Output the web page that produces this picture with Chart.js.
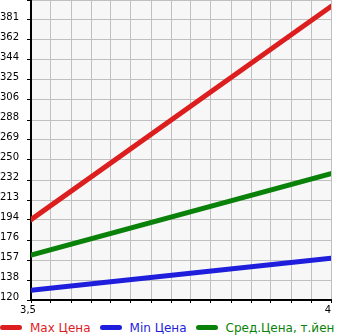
<!DOCTYPE html>
<html>
<head>
<meta charset="utf-8">
<script src="https://cdn.jsdelivr.net/npm/chart.js@4"></script>
<style>
  body { margin: 0; background: #fff; }
  #wrap { position: relative; width: 345px; height: 318px; }
  #legend {
    width: 345px; height: 17px; overflow: hidden; white-space: nowrap;
    font: 12px "DejaVu Sans", sans-serif; line-height: 17px; padding-top: 2px;
  }
  #legend .item { display: inline-block; margin-right: 9px; }
  #legend .mark {
    display: inline-block; width: 22px; height: 5px; border-radius: 3px;
    vertical-align: middle; margin-right: 8px; position: relative; top: -1px;
  }
</style>
</head>
<body>
<div id="wrap"><canvas id="myChart"></canvas></div>
<div id="legend"></div>
<script>
// x values and the three price series
const xValues = [3.5, 4];
const maxPrice = [195, 394];
const minPrice = [129, 159];
const avgPrice = [162, 238];

const seriesNames = ['Max Цена', 'Min Цена', 'Сред.Цена, т.йен'];
const seriesColors = ['#dc1e1e', '#1e1edc', '#0a820a'];

const xTickValues = [3.5, 4];
const xTickLabels = ['3,5', '4'];
const yMin = 120;
const yMax = 400;
const gridSteps = 15;

const plotBackground = {
    id: 'plotBackground',
    beforeDraw(chart) {
        const { ctx, chartArea } = chart;
        ctx.save();
        ctx.fillStyle = '#f7f7f7';
        ctx.fillRect(chartArea.left, chartArea.top, chartArea.width, chartArea.height);
        ctx.restore();
    }
};

const datasets = [maxPrice, minPrice, avgPrice].map((values, i) => ({
    label: seriesNames[i],
    data: values.map((y, j) => ({ x: xValues[j], y })),
    borderColor: seriesColors[i],
    borderWidth: 5,
    borderCapStyle: 'round',
    pointRadius: 0,
    tension: 0,
}));

const ctx = document.getElementById('myChart').getContext('2d');
new Chart(ctx, {
    type: 'line',
    data: { datasets },
    options: {
        responsive: true,
        maintainAspectRatio: false,
        animation: false,
        layout: { padding: { top: 0, left: 0, bottom: 0, right: 14 } },
        plugins: { legend: { display: false }, tooltip: { enabled: false } },
        scales: {
            x: {
                type: 'linear',
                min: xValues[0],
                max: xValues[1],
                afterBuildTicks: (scale) => {
                    const step = (scale.max - scale.min) / gridSteps;
                    scale.ticks = Array.from({ length: gridSteps + 1 }, (_, i) => ({ value: scale.min + i * step }));
                },
                afterFit: (scale) => { scale.height = 18; },
                grid: { color: '#c0c0c0', tickColor: '#000', tickLength: 3 },
                border: { color: '#000', width: 2 },
                ticks: {
                    autoSkip: false,
                    maxRotation: 0,
                    padding: 1,
                    labelOffset: -3,
                    color: '#000',
                    font: { family: 'DejaVu Sans', size: 10 },
                    callback: (value) => {
                        const k = xTickValues.findIndex(v => Math.abs(v - value) < 1e-6);
                        return k >= 0 ? xTickLabels[k] : '';
                    }
                }
            },
            y: {
                min: yMin,
                max: yMax,
                afterBuildTicks: (scale) => {
                    const step = (yMax - yMin) / gridSteps;
                    scale.ticks = Array.from({ length: gridSteps + 1 }, (_, i) => ({ value: yMin + i * step }));
                },
                afterFit: (scale) => {
                    scale.width = 31;
                    scale.paddingTop = 0;
                    scale.paddingBottom = 0;
                },
                grid: { color: '#c0c0c0', tickColor: '#000', tickLength: 4 },
                border: { color: '#000', width: 2 },
                ticks: {
                    autoSkip: false,
                    crossAlign: 'far',
                    labelOffset: -3,
                    padding: 4,
                    color: '#000',
                    font: { family: 'DejaVu Sans', size: 10 },
                    callback: (value) => value >= yMax - 1e-6 ? '' : String(Math.floor(value + 1e-6))
                }
            }
        }
    },
    plugins: [plotBackground]
});

// Legend under the chart
document.getElementById('legend').innerHTML = seriesNames.map((name, i) =>
    `<span class="item" style="color:${seriesColors[i]}"><span class="mark" style="background:${seriesColors[i]}"></span>${name}</span>`
).join('');
</script>
</body>
</html>
